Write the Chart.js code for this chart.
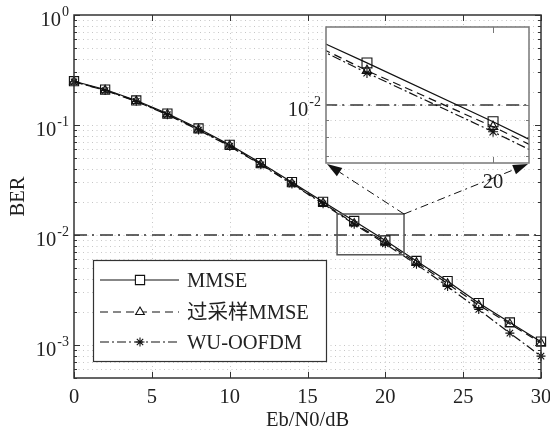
<!DOCTYPE html>
<html>
<head>
<meta charset="utf-8">
<script src="https://cdn.jsdelivr.net/npm/chart.js@4/dist/chart.umd.min.js"></script>
<style>
  body { margin: 0; background: #fff; }
  #wrap { position: relative; width: 550px; height: 432px; }
  #wrap canvas { position: absolute; left: 0; top: 0; }
</style>
</head>
<body>
<div id="wrap">
  <canvas id="berChart" width="550" height="432"></canvas>
  <canvas id="zoomChart" width="550" height="432"></canvas>
</div>
<script>
// BER curves, Eb/N0 in dB
var snr = [0, 2, 4, 6, 8, 10, 12, 14, 16, 18, 20, 22, 24, 26, 28, 30];
var berMmse = [0.250, 0.210, 0.167, 0.127, 0.093, 0.066, 0.045, 0.0302, 0.0200, 0.0134, 0.0089, 0.0058, 0.0038, 0.0024, 0.00160, 0.00107];
var berOversampled = [0.248, 0.207, 0.165, 0.125, 0.091, 0.065, 0.044, 0.0295, 0.0195, 0.0127, 0.0086, 0.0056, 0.0036, 0.0023, 0.00155, 0.00104];
var berWu = [0.247, 0.206, 0.164, 0.124, 0.090, 0.064, 0.0435, 0.0290, 0.0192, 0.0125, 0.0083, 0.0054, 0.0034, 0.0021, 0.00128, 0.00079];
var seriesNames = ['MMSE', '过采样MMSE', 'WU-OOFDM'];
var refBer = 1e-2;

var xTicks = [0, 5, 10, 15, 20, 25, 30];
var yRange = [5e-4, 1];
var zoomBox = { x: [16.9, 21.2], y: [0.0066, 0.0155] };
var insetX = [17.35, 20.57];
var insetY = [0.00668, 0.0172];
var insetXTicks = [20];

var serif = '"Liberation Serif", "Times New Roman", "Noto Sans CJK SC", serif';
var fontMain = '20.5px ' + serif;
var fontSup = '14px ' + serif;
var styles = [
  { dash: [], point: 'rect', r: 6.5, ri: 7 },
  { dash: [8, 5], point: 'triangle', r: 5, ri: 5.5 },
  { dash: [9, 3, 2, 3], point: 'star', r: 4.5, ri: 5 }
];

function points(ys) {
  return snr.map(function (x, i) { return { x: x, y: ys[i] }; });
}

function curveSets(inset) {
  return [berMmse, berOversampled, berWu].map(function (ys, i) {
    var s = styles[i];
    return {
      label: seriesNames[i],
      data: points(ys),
      borderColor: '#111',
      borderWidth: 1.2,
      borderDash: s.dash,
      pointStyle: s.point,
      pointRadius: inset ? s.ri : s.r,
      pointBorderWidth: 1.1,
      pointBorderColor: '#111',
      pointBackgroundColor: 'rgba(0,0,0,0)',
      tension: 0,
      clip: inset ? 0 : false
    };
  });
}

function refLine(inset) {
  return {
    label: 'ref',
    data: [{ x: 0, y: refBer }, { x: 30, y: refBer }],
    borderColor: '#333',
    borderWidth: 1.5,
    borderDash: [13, 5, 2, 6],
    pointRadius: 0,
    clip: inset ? 0 : false
  };
}

function logValues(min, max) {
  var out = [];
  for (var e = -4; e <= 0; e++) {
    for (var m = 1; m <= 9; m++) {
      var v = m * Math.pow(10, e);
      if (v >= min * 0.9999 && v <= max * 1.0001) out.push(v);
    }
  }
  return out;
}

function isDecade(v) {
  var l = Math.log10(v);
  return Math.abs(l - Math.round(l)) < 1e-6;
}

function drawGrid(chart, xVals, yVals) {
  var ctx = chart.ctx, ca = chart.chartArea;
  var xs = chart.scales.x, ys = chart.scales.y;
  ctx.save();
  ctx.strokeStyle = '#c6c6c6';
  ctx.lineWidth = 1;
  ctx.setLineDash([1, 3.5]);
  yVals.forEach(function (v) {
    var p = Math.round(ys.getPixelForValue(v)) + 0.5;
    if (p <= ca.top + 1 || p >= ca.bottom - 1) return;
    ctx.beginPath(); ctx.moveTo(ca.left, p); ctx.lineTo(ca.right, p); ctx.stroke();
  });
  xVals.forEach(function (v) {
    var p = Math.round(xs.getPixelForValue(v)) + 0.5;
    if (p <= ca.left + 1 || p >= ca.right - 1) return;
    ctx.beginPath(); ctx.moveTo(p, ca.top); ctx.lineTo(p, ca.bottom); ctx.stroke();
  });
  ctx.restore();
}

function drawFrameAndTicks(chart, xVals, yVals, color) {
  var ctx = chart.ctx, ca = chart.chartArea;
  var xs = chart.scales.x, ys = chart.scales.y;
  ctx.save();
  ctx.strokeStyle = color;
  ctx.lineWidth = 1;
  ctx.beginPath();
  xVals.forEach(function (v) {
    var p = Math.round(xs.getPixelForValue(v)) + 0.5;
    ctx.moveTo(p, ca.bottom); ctx.lineTo(p, ca.bottom - 6);
    ctx.moveTo(p, ca.top); ctx.lineTo(p, ca.top + 6);
  });
  yVals.forEach(function (v) {
    var p = Math.round(ys.getPixelForValue(v)) + 0.5;
    var len = isDecade(v) ? 6 : 3;
    ctx.moveTo(ca.left, p); ctx.lineTo(ca.left + len, p);
    ctx.moveTo(ca.right, p); ctx.lineTo(ca.right - len, p);
  });
  ctx.stroke();
  ctx.lineWidth = 1.5;
  ctx.strokeRect(ca.left, ca.top, ca.width, ca.height);
  ctx.restore();
}

function drawPow10(ctx, exp, xRight, y) {
  var base = '10', sup = String(exp);
  ctx.save();
  ctx.fillStyle = '#222';
  ctx.textBaseline = 'alphabetic';
  ctx.textAlign = 'left';
  ctx.font = fontSup;
  var ws = ctx.measureText(sup).width;
  ctx.fillText(sup, xRight - ws, y + 1);
  ctx.font = fontMain;
  var wb = ctx.measureText(base).width;
  ctx.fillText(base, xRight - ws - wb - 1, y + 11);
  ctx.restore();
}

function drawXLabels(chart, vals) {
  var ctx = chart.ctx, ca = chart.chartArea, xs = chart.scales.x;
  ctx.save();
  ctx.fillStyle = '#222';
  ctx.font = fontMain;
  ctx.textAlign = 'center';
  ctx.textBaseline = 'alphabetic';
  vals.forEach(function (v) {
    ctx.fillText(String(v), xs.getPixelForValue(v), ca.bottom + 25);
  });
  ctx.restore();
}

function drawLegend(chart) {
  var ctx = chart.ctx, ca = chart.chartArea;
  var left = ca.left + 19, top = ca.bottom - 118, w = 233, h = 101;
  var rows = [20, 52, 82];
  ctx.save();
  ctx.fillStyle = '#fff';
  ctx.fillRect(left, top, w, h);
  ctx.strokeStyle = '#333';
  ctx.lineWidth = 1.2;
  ctx.strokeRect(left + 0.5, top + 0.5, w, h);
  rows.forEach(function (dy, i) {
    var y = top + dy, s = styles[i];
    ctx.strokeStyle = '#111';
    ctx.lineWidth = 1.2;
    ctx.setLineDash(s.dash);
    ctx.beginPath(); ctx.moveTo(left + 7, y); ctx.lineTo(left + 86, y); ctx.stroke();
    ctx.setLineDash([]);
    ctx.fillStyle = '#fff';
    ctx.lineWidth = 1.1;
    Chart.helpers.drawPoint(ctx, { pointStyle: s.point, radius: s.r, borderWidth: 1.1, rotation: 0 }, left + 47, y);
    ctx.fillStyle = '#222';
    ctx.font = fontMain;
    ctx.textBaseline = 'alphabetic';
    ctx.fillText(seriesNames[i], left + 94, y + 7);
  });
  ctx.restore();
}

var mainDecor = {
  id: 'mainDecor',
  beforeDatasetsDraw: function (chart) {
    drawGrid(chart, xTicks, logValues(yRange[0], yRange[1]));
  },
  afterDatasetsDraw: function (chart) {
    var ctx = chart.ctx, xs = chart.scales.x, ys = chart.scales.y;
    drawFrameAndTicks(chart, xTicks, logValues(yRange[0], yRange[1]), '#333');
    // zoom window around the 1e-2 crossing
    var x0 = xs.getPixelForValue(zoomBox.x[0]), x1 = xs.getPixelForValue(zoomBox.x[1]);
    var y0 = ys.getPixelForValue(zoomBox.y[1]), y1 = ys.getPixelForValue(zoomBox.y[0]);
    ctx.save();
    ctx.strokeStyle = '#555';
    ctx.lineWidth = 1.5;
    ctx.strokeRect(x0, y0, x1 - x0, y1 - y0);
    ctx.restore();
  },
  afterDraw: function (chart) {
    var ctx = chart.ctx, ca = chart.chartArea, ys = chart.scales.y;
    drawLegend(chart);
    logValues(yRange[0], yRange[1]).filter(isDecade).forEach(function (v) {
      drawPow10(ctx, Math.round(Math.log10(v)), ca.left - 5, ys.getPixelForValue(v));
    });
    drawXLabels(chart, xTicks);
    ctx.save();
    ctx.fillStyle = '#222';
    ctx.font = fontMain;
    ctx.textAlign = 'center';
    ctx.fillText('Eb/N0/dB', (ca.left + ca.right) / 2, ca.bottom + 48);
    ctx.translate(24, (ca.top + ca.bottom) / 2);
    ctx.rotate(-Math.PI / 2);
    ctx.fillText('BER', 0, 0);
    ctx.restore();
  }
};

function dashArrow(ctx, x0, y0, x1, y1) {
  var ang = Math.atan2(y1 - y0, x1 - x0), head = 15;
  var bx = x1 - head * Math.cos(ang), by = y1 - head * Math.sin(ang);
  ctx.setLineDash([8, 4, 2, 4]);
  ctx.beginPath(); ctx.moveTo(x0, y0); ctx.lineTo(bx, by); ctx.stroke();
  ctx.setLineDash([]);
  ctx.beginPath();
  ctx.moveTo(x1, y1);
  ctx.lineTo(bx + 5 * Math.sin(ang), by - 5 * Math.cos(ang));
  ctx.lineTo(bx - 5 * Math.sin(ang), by + 5 * Math.cos(ang));
  ctx.closePath();
  ctx.fill();
}

var insetDecor = {
  id: 'insetDecor',
  beforeDraw: function (chart) {
    var ca = chart.chartArea;
    chart.ctx.save();
    chart.ctx.fillStyle = '#fff';
    chart.ctx.fillRect(ca.left, ca.top, ca.width, ca.height);
    chart.ctx.restore();
  },
  beforeDatasetsDraw: function (chart) {
    drawGrid(chart, [], logValues(insetY[0], insetY[1]));
  },
  afterDatasetsDraw: function (chart) {
    drawFrameAndTicks(chart, insetXTicks, logValues(insetY[0], insetY[1]), '#777');
  },
  afterDraw: function (chart) {
    var ctx = chart.ctx, ca = chart.chartArea, ys = chart.scales.y;
    logValues(insetY[0], insetY[1]).filter(isDecade).forEach(function (v) {
      drawPow10(ctx, Math.round(Math.log10(v)), ca.left - 5, ys.getPixelForValue(v));
    });
    drawXLabels(chart, insetXTicks);
    // arrows from the zoom window to the inset corners
    var mx = mainChart.scales.x, my = mainChart.scales.y;
    var cx = mx.getPixelForValue(zoomBox.x[1]), cy = my.getPixelForValue(zoomBox.y[1]);
    ctx.save();
    ctx.strokeStyle = '#111';
    ctx.fillStyle = '#111';
    ctx.lineWidth = 1;
    dashArrow(ctx, cx, cy, ca.left + 1, ca.bottom + 1);
    dashArrow(ctx, cx, cy, ca.right - 1, ca.bottom + 1);
    ctx.restore();
  }
};

function baseOptions(xr, yr, padding, fitX, fitY) {
  return {
    responsive: false,
    animation: false,
    events: [],
    layout: { padding: padding },
    plugins: { legend: { display: false }, tooltip: { enabled: false } },
    scales: {
      x: {
        type: 'linear', min: xr[0], max: xr[1],
        ticks: { display: false }, grid: { display: false }, border: { display: false },
        afterFit: function (s) { s.height = fitX; }
      },
      y: {
        type: 'logarithmic', min: yr[0], max: yr[1],
        ticks: { display: false }, grid: { display: false }, border: { display: false },
        afterFit: function (s) { s.width = fitY; }
      }
    }
  };
}

var mainChart = new Chart(document.getElementById('berChart'), {
  type: 'line',
  data: { datasets: curveSets(false).concat([refLine(false)]) },
  options: baseOptions([0, 30], yRange, { top: 15, right: 9 }, 54, 74),
  plugins: [mainDecor]
});

var insetChart = new Chart(document.getElementById('zoomChart'), {
  type: 'line',
  data: { datasets: curveSets(true).concat([refLine(true)]) },
  options: baseOptions(insetX, insetY, { left: 326, top: 27, right: 21, bottom: 269 }, 0, 0),
  plugins: [insetDecor]
});
</script>
</body>
</html>
